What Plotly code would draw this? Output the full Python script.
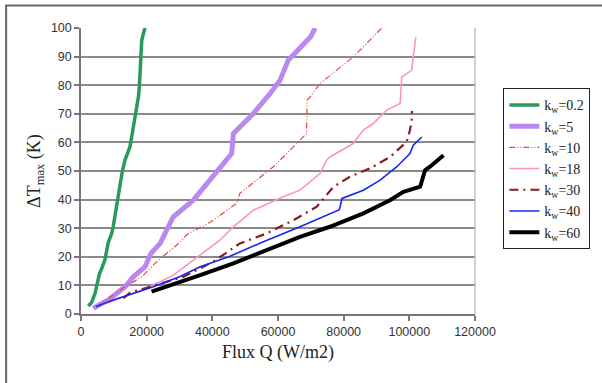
import plotly.graph_objects as go

# ---- data ----
q_k02 = [2200, 3200, 4300, 5100, 5600, 6500, 7300, 8300, 9300, 9800, 10400, 10900, 11900, 12600, 13400, 14400, 14900, 15600, 16400, 17000, 17500, 17800, 18000, 18200, 18500, 19000, 19500]
t_k02 = [2.8, 4.0, 7.3, 11.0, 14.0, 16.5, 19.0, 25.0, 28.0, 30.5, 35.0, 38.7, 45.6, 50.0, 53.8, 57.0, 58.4, 63.0, 67.8, 72.0, 76.0, 80.0, 85.0, 90.0, 95.7, 98.0, 100.0]

q_k5 = [3750, 8300, 13400, 15900, 19500, 21300, 24100, 27100, 28100, 34200, 38300, 41800, 45900, 46400, 52500, 57600, 60600, 63100, 65700, 70000, 71300]
t_k5 = [2.0, 4.9, 9.5, 13.0, 16.5, 21.2, 24.7, 31.7, 34.0, 39.8, 45.6, 50.3, 56.1, 63.1, 70.1, 77.1, 81.7, 88.7, 91.6, 97.0, 100.0]

q_k10 = [4800, 13400, 18500, 23600, 28600, 32700, 36800, 40300, 47400, 48400, 58600, 66700, 68700, 68900, 69800, 72800, 77900, 82900, 86000, 91100, 91600]
t_k10 = [2.6, 9.5, 13.0, 18.9, 23.5, 28.2, 30.5, 32.8, 38.7, 42.2, 51.5, 60.8, 63.1, 74.8, 75.9, 80.6, 85.2, 89.9, 93.4, 99.2, 100.0]

q_k18 = [4800, 12000, 20000, 28000, 36300, 42300, 46400, 52500, 61600, 66700, 72800, 74800, 75800, 82900, 86000, 89000, 93100, 97200, 97700, 100700, 101200, 102000]
t_k18 = [2.5, 5.5, 9.0, 13.5, 20.6, 25.8, 30.5, 36.3, 41.0, 43.3, 49.1, 53.8, 54.9, 59.6, 64.3, 66.6, 71.3, 73.6, 82.9, 85.2, 89.9, 96.9]

q_k30 = [12900, 15000, 21000, 31200, 40300, 48400, 56600, 64700, 71800, 76900, 81900, 88000, 94100, 99200, 100200, 100700, 100800]
t_k30 = [5.5, 7.5, 9.5, 13.0, 18.3, 24.7, 28.2, 32.8, 37.5, 44.5, 48.0, 50.9, 54.9, 60.2, 64.3, 67.8, 71.0]

q_k40 = [4500, 10000, 15900, 22000, 30000, 36300, 45000, 55000, 66700, 74800, 78700, 79500, 86000, 91100, 96200, 100200, 101200, 103800]
t_k40 = [2.5, 5.0, 7.2, 9.5, 13.0, 16.5, 20.0, 25.0, 30.5, 34.6, 36.5, 40.4, 43.3, 46.8, 51.5, 56.1, 59.0, 61.9]

q_k60 = [21500, 28000, 36300, 46400, 56600, 66700, 75800, 86000, 94100, 98200, 103300, 104800, 106300, 109300, 110400]
t_k60 = [7.8, 10.5, 13.6, 17.7, 22.4, 27.0, 30.5, 35.2, 39.8, 42.7, 44.5, 50.3, 51.5, 54.4, 55.5]

series_names = ["k<sub>w</sub>=0.2", "k<sub>w</sub>=5", "k<sub>w</sub>=10", "k<sub>w</sub>=18",
                "k<sub>w</sub>=30", "k<sub>w</sub>=40", "k<sub>w</sub>=60"]
x_ticks = [0, 20000, 40000, 60000, 80000, 100000, 120000]
y_ticks = [0, 10, 20, 30, 40, 50, 60, 70, 80, 90, 100]

styles = [
    dict(color="#2a9a5c", width=3.5, dash="solid"),
    dict(color="#bb88f2", width=5, dash="solid"),
    dict(color="#e8453c", width=1.2, dash="6px,2px,1px,2px,1px,2px"),
    dict(color="#ff90c8", width=1.6, dash="solid"),
    dict(color="#8b1c1c", width=2.2, dash="9px,5px,2px,5px"),
    dict(color="#1428f0", width=1.6, dash="solid"),
    dict(color="#000000", width=4, dash="solid"),
]
xs = [q_k02, q_k5, q_k10, q_k18, q_k30, q_k40, q_k60]
ys = [t_k02, t_k5, t_k10, t_k18, t_k30, t_k40, t_k60]

fig = go.Figure()
for name, x, y, st in zip(series_names, xs, ys, styles):
    fig.add_trace(go.Scatter(x=x, y=y, mode="lines", name=name, line=st))

serif = "Liberation Serif, Times New Roman, serif"
sans = "Liberation Sans, Arial, sans-serif"

fig.update_layout(
    width=602, height=383,
    margin=dict(l=81, r=127, t=28, b=69),
    paper_bgcolor="white", plot_bgcolor="white",
    showlegend=True,
    legend=dict(x=1.072, y=0.789, xanchor="left", yanchor="top",
                bordercolor="#222", borderwidth=1, bgcolor="white",
                font=dict(family=serif, size=14, color="#222"),
                tracegroupgap=0, itemwidth=30),
    xaxis=dict(range=[0, 120000], tickvals=x_ticks, ticktext=[str(v) for v in x_ticks],
               showgrid=False, zeroline=False, showline=True, linecolor="#777", linewidth=1.5,
               ticks="outside", ticklen=5, tickcolor="#777", tickwidth=1.5,
               tickfont=dict(family=sans, size=12.5, color="#333")),
    yaxis=dict(range=[0, 100], tickvals=y_ticks, showgrid=True, gridcolor="#8a8a8a", gridwidth=1.5,
               zeroline=False, showline=True, linecolor="#777", linewidth=1.5,
               ticks="outside", ticklen=5, tickcolor="#777", tickwidth=1.5,
               tickfont=dict(family=sans, size=12.5, color="#333")),
    annotations=[
        dict(text="Flux Q (W/m2)", xref="paper", yref="paper", x=0.50, y=-0.135,
             xanchor="center", yanchor="middle", showarrow=False,
             font=dict(family=serif, size=18, color="#222")),
        dict(text="ΔT<sub>max</sub> (K)", xref="paper", yref="paper", x=-0.117, y=0.5,
             xanchor="center", yanchor="middle", showarrow=False, textangle=-90,
             font=dict(family=serif, size=18, color="#222")),
    ],
    shapes=[
        dict(type="line", xref="paper", yref="paper", x0=1, x1=1, y0=0, y1=1,
             line=dict(color="#b0b0b0", width=1.2)),
        dict(type="rect", xref="paper", yref="paper", x0=-0.19, x1=1.34, y0=-0.3, y1=1.079,
             line=dict(color="#666", width=2), fillcolor="rgba(0,0,0,0)", layer="below"),
    ],
)

fig.write_html("out.html", config={"displayModeBar": False},
               post_script="document.body.style.margin='0';")
